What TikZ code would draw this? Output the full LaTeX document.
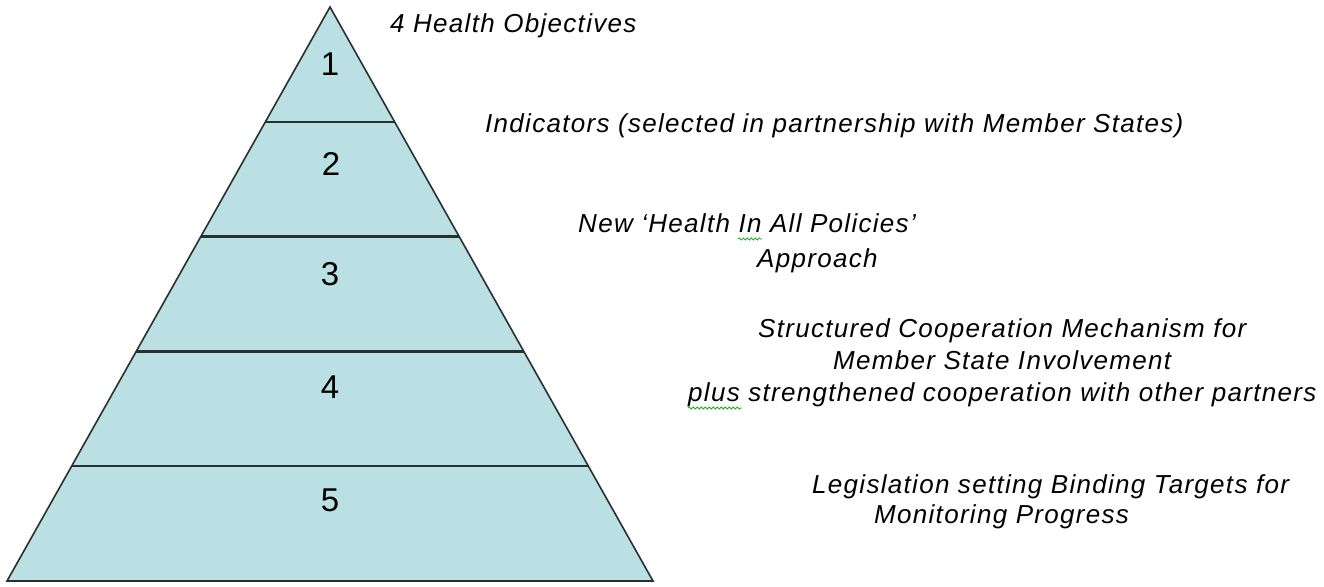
\documentclass[tikz,border=0pt]{standalone}
\usepackage{fontspec}
\setmainfont{Liberation Sans}
\newfontfamily\lblfont[LetterSpace=5]{Liberation Sans}
\usetikzlibrary{calc,decorations.pathmorphing}
\definecolor{pyrfill}{RGB}{187,224,227}
\definecolor{pyrline}{RGB}{40,48,48}
\definecolor{squigcol}{RGB}{40,170,40}
\tikzset{
  lbl/.style={anchor=base west,inner sep=0pt,font=\lblfont\itshape\fontsize{26}{30}\selectfont},
  num/.style={anchor=center,inner sep=0pt,font=\fontsize{33}{36}\selectfont},
  band/.style={draw=pyrline,line width=2.4pt},
  squiggle/.style={draw=squigcol,line width=0.8pt,decorate,decoration={snake,amplitude=1.1pt,segment length=4pt}}
}
\begin{document}
\begin{tikzpicture}[x=1pt,y=-1pt]
\useasboundingbox (0,0) rectangle (1324,586);
% pyramid
\coordinate (apex) at (330,7);
\coordinate (bl) at (7,581);
\coordinate (br) at (653,581);
\fill[pyrfill] (apex) -- (bl) -- (br) -- cycle;
\foreach \f/\n in {0.2/a,0.4/b,0.6/c,0.8/d}{
  \coordinate (L\n) at ($(apex)!\f!(bl)$);
  \coordinate (R\n) at ($(apex)!\f!(br)$);
  \draw[band] (L\n) -- (R\n);
}
\draw[draw=pyrline,line width=1.6pt,line join=miter] (apex) -- (bl) -- (br) -- cycle;
% numbers
\node[num] (n1) at (330,64) {1};
\node[num] (n2) at (331,164) {2};
\node[num] (n3) at (330,274) {3};
\node[num] (n4) at (330,387) {4};
\node[num] (n5) at (330,500) {5};
% labels
\node[lbl] (t1) at (390,33) {4 Health Objectives};
\node[lbl] (t2) at (485,132) {Indicators (selected in partnership with Member States)};
\node[lbl] (t3a) at (578,232) {New ‘Health In All Policies’};
\node[lbl] (t3b) at (757,267) {Approach};
\node[lbl] (t4a) at (758,337) {Structured Cooperation Mechanism for};
\node[lbl] (t4b) at (833,369) {Member State Involvement};
\node[lbl] (t4c) at (688,401) {plus strengthened cooperation with other partners};
\node[lbl] (t5a) at (812,493) {Legislation setting Binding Targets for};
\node[lbl] (t5b) at (874,523) {Monitoring Progress};
% spell-check squiggles
\coordinate (s1a) at (738,239);
\coordinate (s1b) at (762,239);
\draw[squiggle] (s1a) -- (s1b);
\coordinate (s2a) at (688,408);
\coordinate (s2b) at (742,408);
\draw[squiggle] (s2a) -- (s2b);
\end{tikzpicture}
\end{document}
